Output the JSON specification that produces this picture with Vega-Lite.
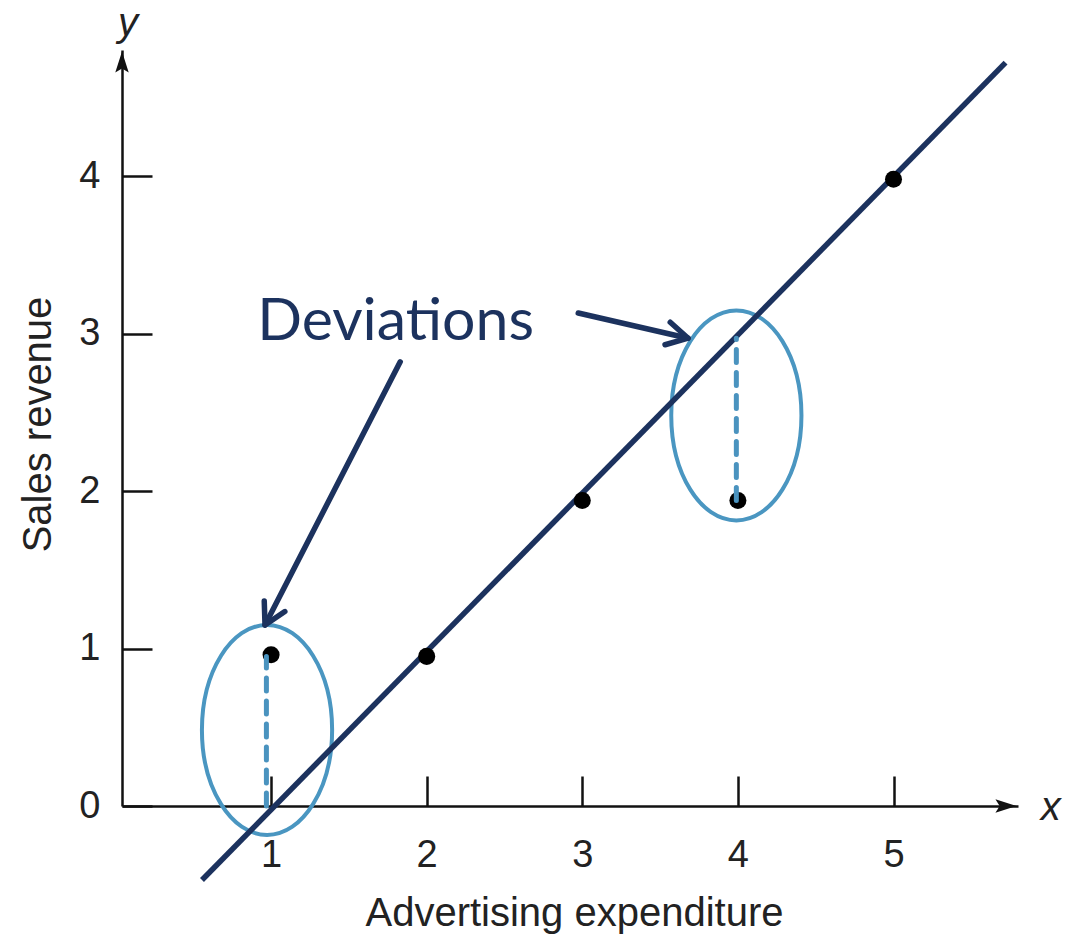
{
  "$schema": "https://vega.github.io/schema/vega-lite/v6.json",
  "autosize": {"type": "none"},
  "width": 896,
  "height": 756,
  "padding": {"left": 122, "top": 50, "right": 59, "bottom": 130},
  "background": "white",
  "config": {
    "view": {"stroke": null},
    "axis": {
      "grid": false,
      "domainColor": "#111111",
      "domainWidth": 2.5,
      "tickColor": "#111111",
      "tickWidth": 2.5,
      "labelFont": "Liberation Sans",
      "labelFontSize": 38,
      "labelColor": "#222222",
      "titleFont": "Liberation Sans",
      "titleFontSize": 40,
      "titleFontWeight": "normal",
      "titleColor": "#222222"
    }
  },
  "datasets": {
    "observations": [
      {"expenditure": 1, "revenue": 0.96},
      {"expenditure": 2, "revenue": 0.95},
      {"expenditure": 3, "revenue": 1.94},
      {"expenditure": 4, "revenue": 1.94},
      {"expenditure": 5, "revenue": 3.98}
    ],
    "fit": [
      {"expenditure": 0.556, "revenue": -0.47},
      {"expenditure": 5.72, "revenue": 4.72}
    ],
    "deviations": [
      {"expenditure": 0.97, "low": 0, "high": 0.95},
      {"expenditure": 3.99, "low": 1.94, "high": 2.97}
    ],
    "rings": [
      {"expenditure": 0.974, "revenue": 0.483},
      {"expenditure": 3.99, "revenue": 2.48}
    ],
    "pointers": [
      {"id": "left", "x0": 1.83, "y0": 2.82, "x1": 0.961, "y1": 1.149},
      {"id": "right", "x0": 2.974, "y0": 3.13, "x1": 3.68, "y1": 2.97}
    ],
    "axisEnds": [
      {"id": "y", "expenditure": 0.042, "revenue": 4.79},
      {"id": "x", "expenditure": 5.79, "revenue": 0}
    ],
    "labels": [
      {"id": "note", "expenditure": 1.80, "revenue": 2.96, "text": "Deviations"},
      {"id": "xname", "expenditure": 6.01, "revenue": -0.09, "text": "x"},
      {"id": "yname", "expenditure": 0.08, "revenue": 4.89, "text": "y"}
    ]
  },
  "encoding": {
    "x": {
      "field": "expenditure",
      "type": "quantitative",
      "scale": {"domain": [0.042, 5.8], "nice": false, "zero": false},
      "axis": {
        "values": [1, 2, 3, 4, 5],
        "tickSize": -30,
        "labelPadding": 60,
        "labelBaseline": "top",
        "title": "Advertising expenditure",
        "titleX": 452,
        "titleY": 119,
        "titleAlign": "center",
        "titleBaseline": "alphabetic"
      }
    },
    "y": {
      "field": "revenue",
      "type": "quantitative",
      "scale": {"domain": [0, 4.8], "nice": false, "zero": false},
      "axis": {
        "values": [0, 1, 2, 3, 4],
        "tickSize": -30,
        "labelPadding": 52,
        "labelAlign": "right",
        "labelBaseline": "middle",
        "title": "Sales revenue",
        "titleAngle": -90,
        "titleX": -72,
        "titleY": 374,
        "titleAlign": "center",
        "titleBaseline": "alphabetic"
      }
    }
  },
  "layer": [
    {
      "data": {"name": "rings"},
      "mark": {
        "type": "point",
        "shape": "M 0,-1 C 0.342,-1 0.62,-0.552 0.62,0 C 0.62,0.552 0.342,1 0,1 C -0.342,1 -0.62,0.552 -0.62,0 C -0.62,-0.552 -0.342,-1 0,-1 Z",
        "size": 44100,
        "filled": false,
        "stroke": "#4a96c1",
        "strokeWidth": 4,
        "opacity": 1
      }
    },
    {
      "data": {"name": "fit"},
      "mark": {"type": "line", "color": "#1c325e", "strokeWidth": 5.5}
    },
    {
      "data": {"name": "observations"},
      "mark": {"type": "point", "shape": "circle", "filled": true, "color": "#000000", "size": 290, "opacity": 1}
    },
    {
      "data": {"name": "deviations"},
      "mark": {"type": "rule", "color": "#4a93bf", "strokeWidth": 5, "strokeDash": [13, 10], "strokeCap": "round"},
      "encoding": {
        "y": {"field": "low", "type": "quantitative"},
        "y2": {"field": "high"}
      }
    },
    {
      "data": {"name": "pointers"},
      "mark": {"type": "rule", "color": "#1c325e", "strokeWidth": 5.5, "strokeCap": "round"},
      "encoding": {
        "x": {"field": "x0", "type": "quantitative"},
        "y": {"field": "y0", "type": "quantitative"},
        "x2": {"field": "x1"},
        "y2": {"field": "y1"}
      }
    },
    {
      "data": {"name": "pointers"},
      "transform": [{"filter": "datum.id === 'left'"}],
      "mark": {"type": "point", "shape": "M -0.55,1 L 0,0 L 0.55,1", "size": 1764, "filled": false, "stroke": "#1c325e", "strokeWidth": 5.5, "strokeCap": "round", "strokeJoin": "round", "angle": 207, "opacity": 1},
      "encoding": {
        "x": {"field": "x1", "type": "quantitative"},
        "y": {"field": "y1", "type": "quantitative"}
      }
    },
    {
      "data": {"name": "pointers"},
      "transform": [{"filter": "datum.id === 'right'"}],
      "mark": {"type": "point", "shape": "M -0.55,1 L 0,0 L 0.55,1", "size": 1764, "filled": false, "stroke": "#1c325e", "strokeWidth": 5.5, "strokeCap": "round", "strokeJoin": "round", "angle": 103, "opacity": 1},
      "encoding": {
        "x": {"field": "x1", "type": "quantitative"},
        "y": {"field": "y1", "type": "quantitative"}
      }
    },
    {
      "data": {"name": "axisEnds"},
      "transform": [{"filter": "datum.id === 'y'"}],
      "mark": {"type": "point", "shape": "M 0,0 L 0.32,1 L 0,0.8 L -0.32,1 Z", "size": 1764, "filled": true, "color": "#111111", "opacity": 1, "angle": 0}
    },
    {
      "data": {"name": "axisEnds"},
      "transform": [{"filter": "datum.id === 'x'"}],
      "mark": {"type": "point", "shape": "M 0,0 L 0.32,1 L 0,0.8 L -0.32,1 Z", "size": 1764, "filled": true, "color": "#111111", "opacity": 1, "angle": 90}
    },
    {
      "data": {"name": "labels"},
      "transform": [{"filter": "datum.id === 'note'"}],
      "mark": {"type": "text", "font": "Lato", "fontSize": 59, "color": "#1c325e", "align": "center", "baseline": "alphabetic"},
      "encoding": {"text": {"field": "text"}}
    },
    {
      "data": {"name": "labels"},
      "transform": [{"filter": "datum.id !== 'note'"}],
      "mark": {"type": "text", "font": "Liberation Sans", "fontSize": 40, "fontStyle": "italic", "color": "#222222", "align": "center", "baseline": "alphabetic"},
      "encoding": {"text": {"field": "text"}}
    }
  ]
}
